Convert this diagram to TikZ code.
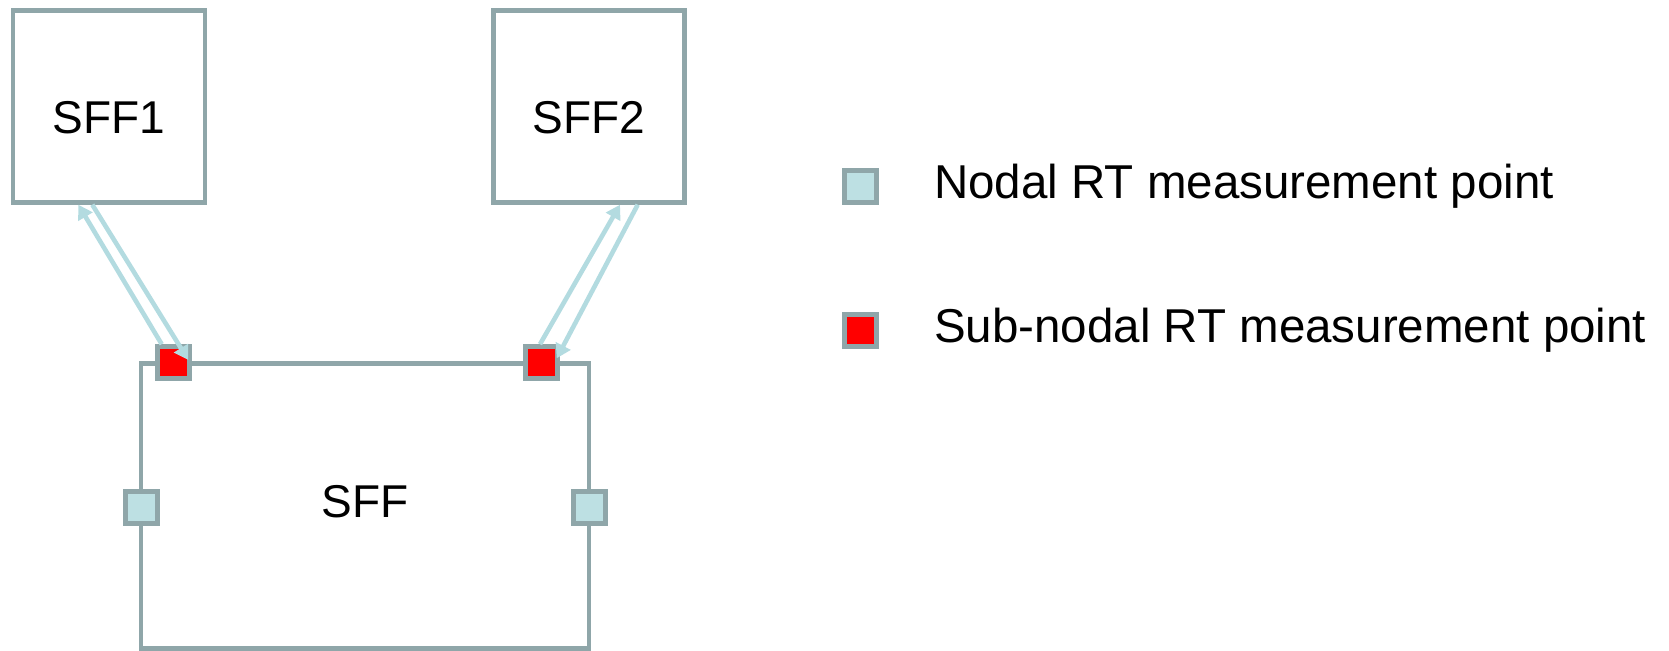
\documentclass[tikz,border=0pt]{standalone}
\usepackage{fontspec}
\setmainfont{Liberation Sans}
\usetikzlibrary{arrows.meta}
\definecolor{bordergray}{HTML}{8FA6A9}
\definecolor{paleblue}{HTML}{BDE0E3}
\definecolor{flowblue}{HTML}{B3DBE0}
\definecolor{subred}{HTML}{FF0000}
\tikzset{
  fnbox/.style={draw=bordergray, line width=4.5pt, fill=white, inner sep=0pt,
    font=\fontsize{46}{50}\selectfont, text depth=0pt},
  nodalpt/.style={draw=bordergray, line width=5pt, fill=paleblue, minimum size=32pt, inner sep=0pt},
  subpt/.style={draw=bordergray, line width=5pt, fill=subred, minimum size=32pt, inner sep=0pt},
  legtext/.style={font=\fontsize{47.5}{52}\selectfont, anchor=base west, inner sep=0pt},
  flow/.style={draw=flowblue, line width=4.6pt, -{Triangle[length=14pt,width=16pt]}}
}
\begin{document}
\begin{tikzpicture}[x=1pt,y=-1pt]
\useasboundingbox (0,0) rectangle (1669,650);
% boxes
\node[fnbox, minimum width=192pt, minimum height=191.7pt, text height=53pt] (sff1) at (109,106.6) {SFF1};
\node[fnbox, minimum width=191pt, minimum height=191.7pt, text height=53pt] (sff2) at (589,106.6) {SFF2};
\node[fnbox, minimum width=448.3pt, minimum height=285.2pt, text height=23pt] (sff) at (364.9,505.9) {SFF};
% measurement points on SFF
\node[subpt] (sub1) at (173,362.7) {};
\node[subpt] (sub2) at (541,362.7) {};
\node[nodalpt] (nod1) at (141,507) {};
\node[nodalpt] (nod2) at (589,507) {};
% flows
\draw[flow] ([xshift=-11.3pt]sub1.north) -- ([xshift=-30.7pt]sff1.south);
\draw[flow] ([xshift=-16.7pt]sff1.south) -- ([xshift=-3.2pt,yshift=2.7pt]sub1.east);
\draw[flow] ([xshift=-1pt]sub2.north) -- ([xshift=31pt]sff2.south);
\draw[flow] ([xshift=48.7pt]sff2.south) -- ([xshift=-2.8pt,yshift=4.4pt]sub2.east);
% legend
\node[nodalpt] (legnod) at (860.8,186.7) {};
\node[subpt] (legsub) at (860.8,330.8) {};
\node[legtext] (legnodtext) at (934,198.3) {Nodal RT measurement point};
\node[legtext] (legsubtext) at (934,342.3) {Sub-nodal RT measurement point};
\end{tikzpicture}
\end{document}
